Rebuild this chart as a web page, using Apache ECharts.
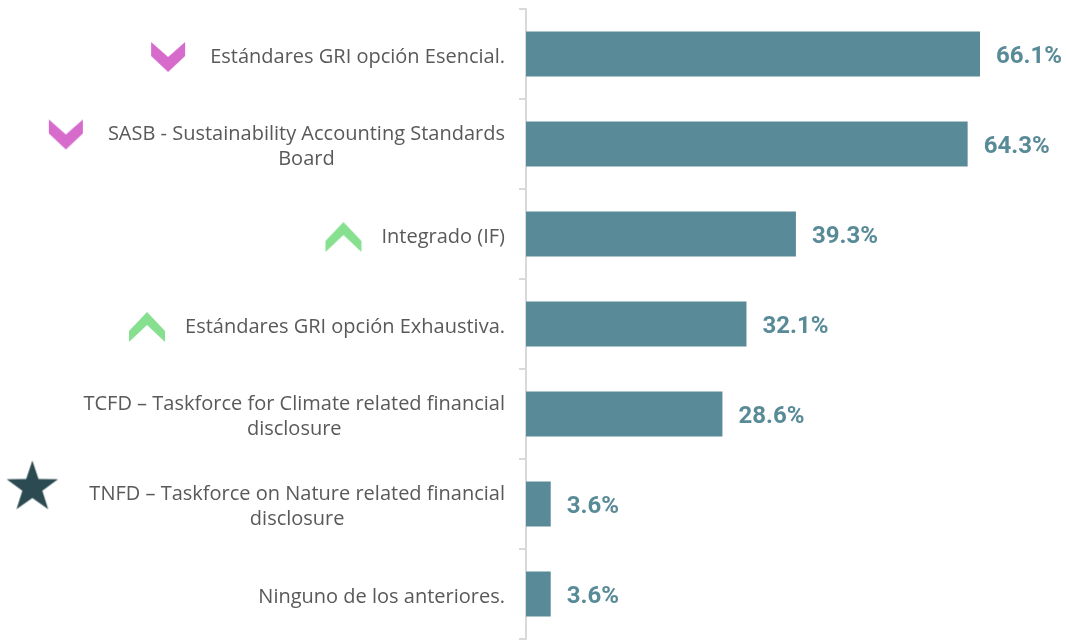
<html>
  <head>
    <meta charset="utf-8" />
    <script src="https://cdn.jsdelivr.net/npm/echarts@6/dist/echarts.min.js"></script>
  </head>
  <body>
    <style>
      html,
      body,
      #main {
        width: 100%;
        height: 100%;
        margin: 0;
        background: #fff;
      }
    </style>
    <div id="main"></div>
    <script>
      // categories, top to bottom
      const categories = [
        "Estándares GRI opción Esencial.",
        "SASB - Sustainability Accounting Standards\nBoard",
        "Integrado (IF)",
        "Estándares GRI opción Exhaustiva.",
        "TCFD – Taskforce for Climate related financial\ndisclosure",
        "TNFD – Taskforce on Nature related financial\ndisclosure",
        "Ninguno de los anteriores.",
      ];
      const values = [66.1, 64.3, 39.3, 32.1, 28.6, 3.6, 3.6];
      // marker shown next to each label
      const icons = ["down", "down", "up", "up", null, "star", null];

      const barColor = "#588b97";
      const textColor = "#595959";

      function makeCanvas(w, h, draw) {
        const c = document.createElement("canvas");
        c.width = w;
        c.height = h;
        draw(c.getContext("2d"));
        return c;
      }

      const downImg = makeCanvas(34, 30, function (ctx) {
        ctx.fillStyle = "#d66bcb";
        ctx.beginPath();
        ctx.moveTo(0, 0);
        ctx.lineTo(17, 15);
        ctx.lineTo(34, 0);
        ctx.lineTo(34, 14);
        ctx.lineTo(17, 30);
        ctx.lineTo(0, 14);
        ctx.closePath();
        ctx.fill();
      });
      const upImg = makeCanvas(36, 30, function (ctx) {
        ctx.fillStyle = "#86e090";
        ctx.beginPath();
        ctx.moveTo(0, 19);
        ctx.lineTo(18, 0);
        ctx.lineTo(36, 19);
        ctx.lineTo(36, 30);
        ctx.lineTo(18, 13);
        ctx.lineTo(0, 30);
        ctx.closePath();
        ctx.fill();
      });
      const starImg = makeCanvas(54, 70, function (ctx) {
        ctx.fillStyle = "#2c4a51";
        ctx.beginPath();
        for (let i = 0; i < 10; i++) {
          const r = i % 2 === 0 ? 27 : 10.5;
          const a = -Math.PI / 2 + (i * Math.PI) / 5;
          const x = 27 + r * Math.cos(a);
          const y = 28 + r * Math.sin(a);
          if (i === 0) ctx.moveTo(x, y);
          else ctx.lineTo(x, y);
        }
        ctx.closePath();
        ctx.fill();
      });

      const iconW = { down: 34, up: 36, star: 54 };
      const iconGap = { down: 25, up: 20, star: 30 };

      var chart = echarts.init(document.getElementById("main"));

      var option = {
        animation: false,
        grid: { left: 526, right: 18, top: 9, bottom: 1, containLabel: false },
        xAxis: {
          type: "value",
          min: 0,
          max: 76,
          show: false,
        },
        yAxis: {
          type: "category",
          inverse: true,
          data: categories,
          axisLine: { lineStyle: { color: "#d9d9d9", width: 2 } },
          axisTick: {
            show: true,
            alignWithLabel: false,
            length: 7,
            lineStyle: { color: "#d9d9d9", width: 2 },
          },
          axisLabel: {
            margin: 21,
            align: "right",
            padding: [6, 0, 0, 0],
            formatter: function (val, idx) {
              const lines = val.split("\n");
              const ic = icons[idx];
              let out = "";
              if (ic) {
                out += "{" + ic + "|}{g_" + ic + "|}";
              }
              out += "{t|" + lines[0] + "}";
              for (let i = 1; i < lines.length; i++) {
                out += "\n";
                if (ic) out += "{s_" + ic + "|}";
                out += "{t|" + lines[i] + "}";
              }
              return out;
            },
            rich: {
              t: {
                fontFamily: "Open Sans",
                fontSize: 20,
                color: textColor,
                lineHeight: 25,
                align: "center",
              },
              down: {
                width: 34,
                height: 30,
                lineHeight: 25,
                align: "center",
                backgroundColor: { image: downImg },
              },
              up: {
                width: 36,
                height: 30,
                lineHeight: 25,
                align: "center",
                backgroundColor: { image: upImg },
              },
              star: {
                width: 54,
                height: 70,
                lineHeight: 25,
                align: "center",
                backgroundColor: { image: starImg },
              },
              g_down: { width: iconGap.down, align: "center" },
              g_up: { width: iconGap.up, align: "center" },
              g_star: { width: iconGap.star, align: "center" },
              s_down: { width: iconW.down + iconGap.down, align: "center" },
              s_up: { width: iconW.up + iconGap.up, align: "center" },
              s_star: { width: iconW.star + iconGap.star, align: "center" },
            },
          },
        },
        series: [
          {
            type: "bar",
            data: values,
            barWidth: 45,
            itemStyle: { color: barColor },
            label: {
              show: true,
              position: "right",
              distance: 16,
              offset: [0, 3],
              formatter: function (p) {
                return p.value.toFixed(1) + "%";
              },
              fontFamily: "Roboto",
              fontWeight: "bold",
              fontSize: 24,
              color: barColor,
            },
          },
        ],
      };

      chart.setOption(option);
      window.onresize = chart.resize;
    </script>
  </body>
</html>
